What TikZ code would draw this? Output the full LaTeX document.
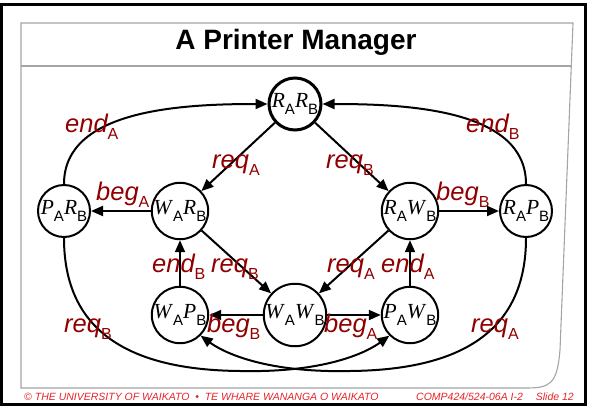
\documentclass[tikz,border=0pt]{standalone}
\usepackage{fontspec}
\setmainfont{Liberation Serif}
\setsansfont{Liberation Sans}
\usetikzlibrary{arrows.meta}

\definecolor{lblred}{RGB}{145,0,0}
\definecolor{footred}{RGB}{230,35,40}
\definecolor{framegray}{RGB}{165,165,165}

% state name: two italic serif letters, each with an upright sans subscript
\newcommand\stname[4]{\fontsize{21.5}{21.5}\selectfont
  \textit{#1}\raisebox{-6.5pt}{\sffamily\upshape\fontsize{15}{15}\selectfont #2}%
  \textit{#3}\raisebox{-6.5pt}{\sffamily\upshape\fontsize{15}{15}\selectfont #4}}
% action label: italic sans word with an upright subscript
\newcommand\actname[2]{\sffamily\fontsize{25.5}{25.5}\selectfont
  {\itshape #1}\raisebox{-7pt}{\upshape\fontsize{16}{16}\selectfont #2}}

\tikzset{
  state/.style={circle, draw, line width=2pt, minimum size=52pt, inner sep=0pt},
  initstate/.style={state, line width=3pt},
  trans/.style={line width=2pt, -{Triangle[length=12pt,width=10pt]}},
  act/.style={text=lblred, inner sep=0pt, anchor=base west},
  foot/.style={text=footred, inner sep=0pt, font=\sffamily\itshape\fontsize{10.5}{11}\selectfont},
}

\begin{document}
\begin{tikzpicture}[x=1pt,y=-1pt]
\useasboundingbox (0,0) rectangle (589,407);

% slide frame
\draw[line width=3pt] (1.5,4) rectangle (585.5,404);
\draw[framegray, line width=1.1pt]
  (21,23) -- (573,23) -- (560,350)
  .. controls (557,385) and (550,388) .. (525,388) -- (21,388) -- cycle;
\draw[framegray, line width=1.1pt] (21,66) -- (571.3,66);

% title
\node[anchor=base, inner sep=0pt, font=\sffamily\bfseries\fontsize{28}{28}\selectfont]
  (title) at (296,49) {A Printer Manager};

% states
\node[initstate] (RARB) at (295,104) {\stname{R}{A}{R}{B}};
\node[state] (PARB) at (64,211)  {\stname{P}{A}{R}{B}};
\node[state] (WARB) at (180,211) {\stname{W}{A}{R}{B}};
\node[state] (RAWB) at (410,211) {\stname{R}{A}{W}{B}};
\node[state] (RAPB) at (526,211) {\stname{R}{A}{P}{B}};
\node[state] (WAPB) at (180,315) {\stname{W}{A}{P}{B}};
\node[state] (WAWB) at (295,315) {\stname{W}{A}{W}{B}};
\node[state] (PAWB) at (410,315) {\stname{P}{A}{W}{B}};

% transitions
\draw[trans] (RARB) -- (WARB);
\draw[trans] (RARB) -- (RAWB);
\draw[trans] (WARB) -- (PARB);
\draw[trans] (RAWB) -- (RAPB);
\draw[trans] (WARB) -- (WAWB);
\draw[trans] (RAWB) -- (WAWB);
\draw[trans] (WAPB) -- (WARB);
\draw[trans] (PAWB) -- (RAWB);
\draw[trans] (WAWB) -- (WAPB);
\draw[trans] (WAWB) -- (PAWB);
\draw[trans] (PARB.north) .. controls (64,110) and (180,104) .. (RARB.west);
\draw[trans] (RAPB.north) .. controls (526,110) and (410,104) .. (RARB.east);
\draw[trans] (PARB.south) .. controls (64,332) and (130,370) .. (240,371)
  .. controls (330,373) and (370,350) .. (PAWB.225);
\draw[trans] (RAPB.south) .. controls (526,332) and (460,370) .. (350,371)
  .. controls (260,373) and (220,350) .. (WAPB.315);

% action labels
\node[act] (l1)  at (65,132)  {\actname{end}{A}};
\node[act] (l2)  at (466,132) {\actname{end}{B}};
\node[act] (l3)  at (212,168) {\actname{req}{A}};
\node[act] (l4)  at (326,168) {\actname{req}{B}};
\node[act] (l5)  at (96,200)  {\actname{beg}{A}};
\node[act] (l6)  at (436,200) {\actname{beg}{B}};
\node[act] (l7)  at (152,272) {\actname{end}{B}};
\node[act] (l8)  at (211,272) {\actname{req}{B}};
\node[act] (l9)  at (327,272) {\actname{req}{A}};
\node[act] (l10) at (381,272) {\actname{end}{A}};
\node[act] (l11) at (64,332)  {\actname{req}{B}};
\node[act] (l12) at (207,332) {\actname{beg}{B}};
\node[act] (l13) at (324,332) {\actname{beg}{A}};
\node[act] (l14) at (471,332) {\actname{req}{A}};

% footer
\node[foot, anchor=base west] (f1) at (24,400)
  {\textcopyright\ THE UNIVERSITY OF WAIKATO \ \textbullet\ \ TE WHARE WANANGA O WAIKATO};
\node[foot, anchor=base west] (f2) at (416,400) {COMP424/524-06A I-2};
\node[foot, anchor=base east] (f3) at (574,400) {Slide 12};
\end{tikzpicture}
\end{document}
